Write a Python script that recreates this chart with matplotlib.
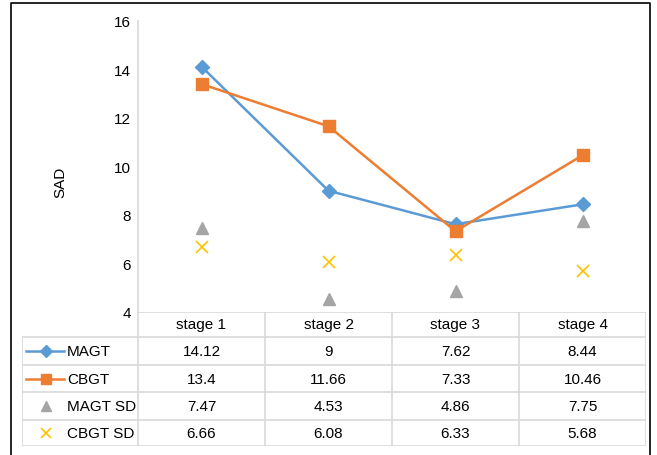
import matplotlib.pyplot as plt
from matplotlib.lines import Line2D

plt.rcParams['font.family'] = ['Liberation Sans', 'DejaVu Sans']

stages = ["stage 1", "stage 2", "stage 3", "stage 4"]
magt = [14.12, 9, 7.62, 8.44]
cbgt = [13.4, 11.66, 7.33, 10.46]
magt_sd = [7.47, 4.53, 4.86, 7.75]
cbgt_sd = [6.66, 6.08, 6.33, 5.68]
series_names = ["MAGT", "CBGT", "MAGT SD", "CBGT SD"]

W, H = 657, 456
fig = plt.figure(figsize=(W / 100, H / 100), dpi=100)

def box(x0, y0, x1, y1):
    # pixel box (top-left origin) -> figure fraction rect
    return [x0 / W, 1 - y1 / H, (x1 - x0) / W, (y1 - y0) / H]

grey = "#d9d9d9"
fs = 11
styles = [
    dict(color="#5B9BD5", marker="D", ms=7, lw=1.8, ls="-"),
    dict(color="#ED7D31", marker="s", ms=8, lw=1.8, ls="-"),
    dict(color="#A5A5A5", marker="^", ms=8, lw=0, ls="none"),
    dict(color="#FFC000", marker="x", ms=8, lw=0, ls="none", mew=1.2),
]
data = [magt, cbgt, magt_sd, cbgt_sd]

# outer frame
fig.add_artist(Line2D([11 / W, 11 / W, 650 / W, 650 / W], [0, 1 - 4 / H, 1 - 4 / H, 0],
                      color="black", lw=1.2))

ax = fig.add_axes(box(138, 22, 646, 313))
x = range(len(stages))
for vals, st in zip(data, styles):
    ax.plot(x, vals, **st)
ax.set_xlim(-0.5, 3.5)
ax.set_ylim(4, 16)
ax.set_yticks(range(4, 17, 2))
ax.set_xticks([])
for s in ["top", "right", "bottom"]:
    ax.spines[s].set_visible(False)
ax.spines["left"].set_color(grey)
ax.spines["left"].set_linewidth(1.2)
ax.tick_params(axis="y", length=0, labelsize=fs, pad=5)
ax.set_ylabel("SAD", fontsize=fs, va="center")
ax.yaxis.set_label_coords(-0.152, 0.45)

# data table
tab = fig.add_axes(box(22, 313, 646, 447))
tab.set_xlim(22, 646)
tab.set_ylim(447, 313)
tab.axis("off")
col_x = [138, 265, 392, 519, 646]
row_y = [313, 338, 366, 393, 421, 447]
for cx in col_x:
    tab.plot([cx, cx], [313, 447], color=grey, lw=1.2)
tab.plot([22, 22], [338, 447], color=grey, lw=1.2)
for i, ry in enumerate(row_y):
    tab.plot([22 if i > 0 else 138, 646], [ry, ry], color=grey, lw=1.2)
for j, name in enumerate(stages):
    tab.text((col_x[j] + col_x[j + 1]) / 2, (row_y[0] + row_y[1]) / 2, name,
             ha="center", va="center", fontsize=fs)
for i, (vals, st, name) in enumerate(zip(data, styles, series_names)):
    yc = (row_y[i + 1] + row_y[i + 2]) / 2
    if st["ls"] == "-":
        tab.plot([26, 64], [yc, yc], color=st["color"], lw=st["lw"])
    tab.plot([46], [yc], color=st["color"], marker=st["marker"],
             ms=st["ms"] - 1, ls="none", mew=st.get("mew", 1))
    tab.text(67, yc, name, ha="left", va="center", fontsize=fs)
    for j, v in enumerate(vals):
        tab.text((col_x[j] + col_x[j + 1]) / 2, yc, f"{v:g}",
                 ha="center", va="center", fontsize=fs)

fig.savefig("out.png", dpi=100)
